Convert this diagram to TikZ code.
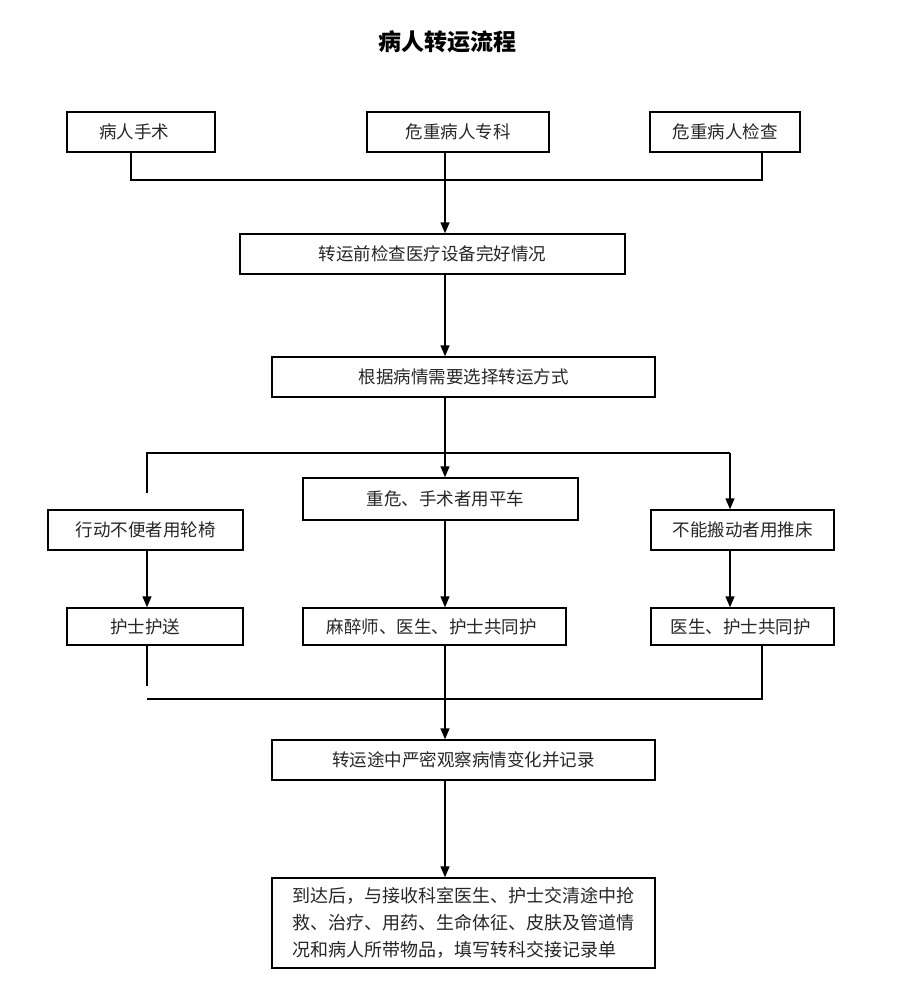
\documentclass[tikz,border=0pt]{standalone}
\usepackage{fontspec}
\newfontfamily\cjk{Noto Sans CJK SC}
\usetikzlibrary{arrows.meta}
\begin{document}
\begin{tikzpicture}[x=1pt,y=-1pt,
  box/.style={draw,line width=1.4pt,rectangle,inner sep=0pt,font=\cjk\fontsize{17.5}{25}\selectfont,text=black!85},
  ln/.style={line width=1.4pt},
  ar/.style={line width=1.4pt,-{Triangle[length=11pt,width=9pt]}}]
\useasboundingbox (0,0) rectangle (911,993);
\node[font=\cjk\bfseries\fontsize{23}{27}\selectfont] (title) at (447,42) {病人转运流程};
\newcommand{\bx}[6]{\node[box,minimum width=#4-#2,minimum height=#5-#3] (#1) at ({(#2+#4)/2},{(#3+#5)/2}) {#6};}
\bx{a}{67}{112}{215}{152}{病人手术\hspace*{14pt}}
\bx{b}{367}{112}{549}{152}{危重病人专科}
\bx{c}{650}{112}{800}{152}{危重病人检查}
\bx{d}{240}{234}{625}{274}{转运前检查医疗设备完好情况}
\bx{e}{272}{357}{655}{397}{根据病情需要选择转运方式}
\bx{f}{48}{510}{243}{550}{行动不便者用轮椅}
\bx{g}{303}{478}{578}{520}{\hspace*{10pt}重危、手术者用平车}
\bx{h}{651}{510}{834}{550}{不能搬动者用推床}
\bx{i}{67}{608}{243}{645}{护士护送\hspace*{20pt}}
\bx{j}{303}{608}{566}{645}{麻醉师、医生、护士共同护\hspace*{6pt}}
\bx{k}{651}{608}{834}{645}{医生、护士共同护\hspace*{4pt}}
\bx{l}{272}{740}{655}{780}{转运途中严密观察病情变化并记录}
\node[box,minimum width=383,minimum height=90,align=left,font=\cjk\fontsize{18}{27}\selectfont] (m) at (463.5,923) {到达后，与接收科室医生、护士交清途中抢\\救、治疗、用药、生命体征、皮肤及管道情\\况和病人所带物品，填写转科交接记录单};
\coordinate (a1) at (131,180); \coordinate (c1) at (762,180);
\draw[ln] (a1 |- a.south) -- (a1) -- (c1) -- (c1 |- c.south);
\draw[ar] (b.south -| 445,0) -- (d.north -| 445,0);
\draw[ar] (d.south -| 445,0) -- (e.north -| 445,0);
\draw[ar] (e.south -| 445,0) -- (g.north -| 445,0);
\coordinate (s1) at (147,453); \coordinate (s2) at (730,453);
\draw[ln] (147,493) -- (s1) -- (s2);
\draw[ar] (s2) -- (h.north -| s2);
\draw[ar] (f.south -| s1) -- (i.north -| s1);
\draw[ar] (g.south -| 445,0) -- (j.north -| 445,0);
\draw[ar] (h.south -| s2) -- (k.north -| s2);
\coordinate (t1) at (147,699); \coordinate (t2) at (762,699);
\draw[ln] (i.south -| t1) -- (147,686);
\draw[ln] (t1) -- (t2) -- (k.south -| t2);
\draw[ar] (j.south -| 445,0) -- (l.north -| 445,0);
\draw[ar] (l.south -| 445,0) -- (m.north -| 445,0);
\end{tikzpicture}
\end{document}
